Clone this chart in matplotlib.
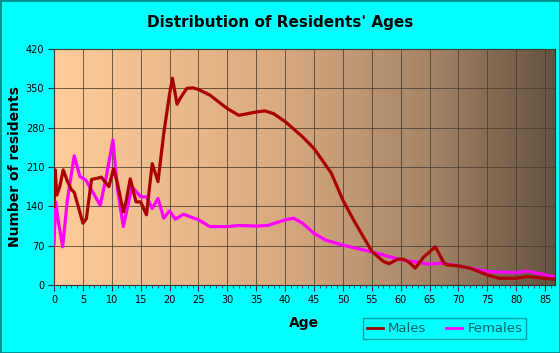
import numpy as np
import matplotlib
matplotlib.use("Agg")
import matplotlib.pyplot as plt
from matplotlib.colors import LinearSegmentedColormap
from matplotlib.patches import Rectangle
from matplotlib.lines import Line2D

# values
male_age = [0, 0.2, 0.5, 1, 1.6, 2.3, 3, 3.5, 4.2, 5, 5.6, 6.5, 7.5, 8.2, 9.5,
            10.3, 11, 12, 12.5, 13.2, 14.2, 15, 16, 17, 18, 19, 20, 20.5, 21.3,
            22, 23, 24, 25, 27, 30, 32, 35, 36.5, 38, 40, 43, 45, 48, 50, 52,
            55, 57, 58, 59.5, 60.5, 61.5, 62.5, 64, 66, 67.5, 68, 70, 72, 75,
            77, 80, 82, 85, 87]
males = [140, 205, 160, 175, 205, 185, 170, 165, 140, 110, 118, 188, 190, 192, 175,
         207, 180, 130, 150, 189, 148, 148, 125, 216, 184, 270, 340, 368, 322,
         335, 350, 351, 348, 338, 314, 302, 308, 310, 305, 291, 264, 243, 199, 151, 113,
         60, 42, 38, 46, 46, 40, 30, 50, 68, 39, 36, 34, 30, 18,
         12, 12, 15, 12, 10]

female_age = [0, 0.3, 0.8, 1.5, 2.3, 3.5, 4.5, 5.5, 7, 8, 9, 10.2, 11, 12, 13.5,
              15, 16, 17, 18, 19, 20, 21, 22.4, 25, 27, 30, 32, 35, 37, 40,
              41.5, 43, 45, 47, 50, 55, 60, 65, 67, 70, 75, 80, 82, 85, 87]
females = [72, 148, 110, 68, 150, 230, 193, 187, 160, 142, 190, 258, 170, 104, 175,
           157, 157, 136, 154, 119, 132, 117, 126, 116, 104, 104, 106, 105, 106, 116,
           119, 110, 92, 80, 71, 59, 45, 37, 39, 34, 24, 22, 25, 18, 14]

fig = plt.figure(figsize=(5.6, 3.53), dpi=100, facecolor="#00FFFF")
fig.patches.append(Rectangle((0, 0), 1, 1, transform=fig.transFigure, fill=False,
                             edgecolor="#008B8B", linewidth=2))
ax = fig.add_axes([0.0964, 0.1926, 0.8946, 0.6684])

# gradient background
cmap = LinearSegmentedColormap.from_list(
    "bg", [(0, "#FFCC99"), (0.45, "#D9AA80"), (0.75, "#A58567"), (1, "#645240")])
grad = np.linspace(0, 1, 256).reshape(1, -1)
ax.imshow(grad, cmap=cmap, aspect="auto", extent=[0, 86.7, 0, 420], zorder=0)

ax.plot(female_age, females, color="#FF00FF", lw=2.3, solid_joinstyle="round", zorder=3)
ax.plot(male_age, males, color="#AA0000", lw=2.3, solid_joinstyle="round", zorder=4)

ax.set_xlim(0, 86.7)
ax.set_ylim(0, 420)
ax.set_xticks(np.arange(0, 86, 5))
ax.set_xticks(np.arange(0, 87, 1), minor=True)
ax.set_yticks(np.arange(0, 421, 70))
ax.grid(True, color="#4A3C30", lw=0.7, alpha=0.8, zorder=1)
ax.set_axisbelow(False)
for s in ax.spines.values():
    s.set_color("#333333")
    s.set_linewidth(0.8)
ax.tick_params(axis="both", labelsize=7, length=4, color="#333333", pad=3)
ax.tick_params(axis="x", which="minor", length=2.5, color="#333333")

ax.set_xlabel("Age", fontsize=10, fontweight="bold", labelpad=8)
ax.set_ylabel("Number of residents", fontsize=10, fontweight="bold", labelpad=3)
fig.text(0.5, 0.935, "Distribution of Residents' Ages", ha="center", va="center",
         fontsize=11, fontweight="bold")

h = [Line2D([], [], color="#AA0000", lw=2), Line2D([], [], color="#FF00FF", lw=2)]
leg = ax.legend(h, ["Males", "Females"], loc="center", bbox_to_anchor=(0.78, -0.185),
                ncol=2, fontsize=9.5, frameon=True, handlelength=1.2,
                columnspacing=1.5, handletextpad=0.4, borderpad=0.3, fancybox=False)
leg.get_frame().set_facecolor("#00FFFF")
leg.get_frame().set_edgecolor("#008B8B")
for t in leg.get_texts():
    t.set_color("#006464")

fig.savefig("out.png", dpi=100, facecolor=fig.get_facecolor())
